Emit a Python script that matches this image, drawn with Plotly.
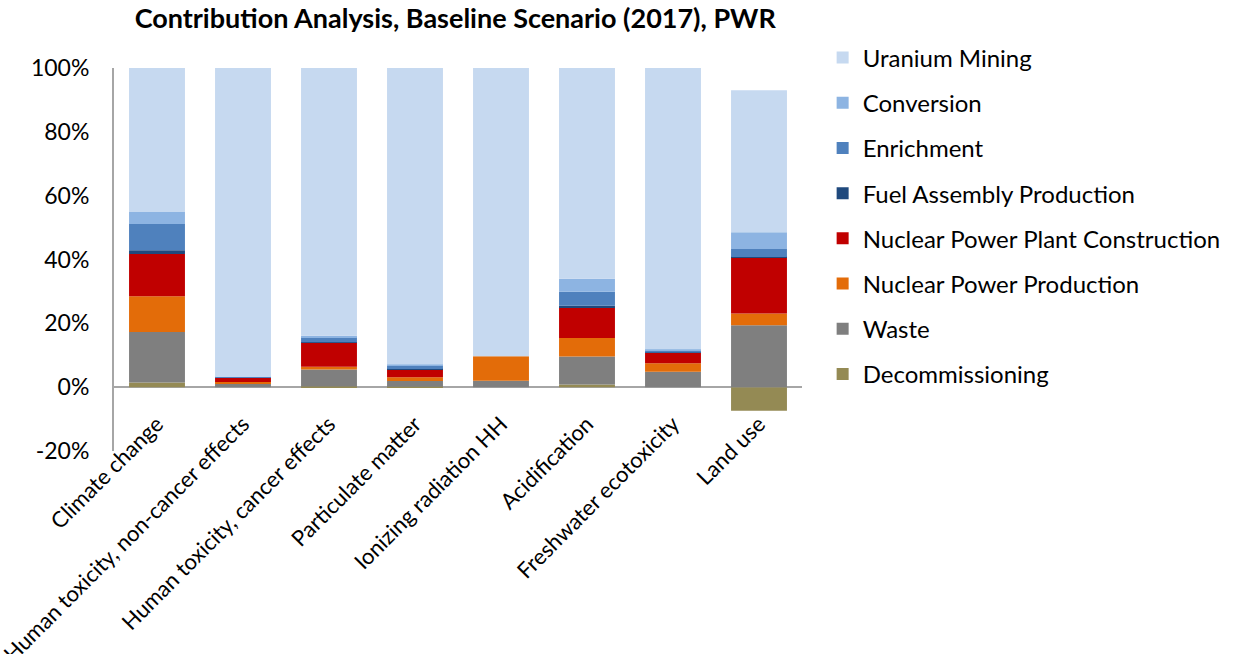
import plotly.graph_objects as go

categories = [
    "Climate change",
    "Human toxicity, non-cancer effects",
    "Human toxicity, cancer effects",
    "Particulate matter",
    "Ionizing radiation HH",
    "Acidification",
    "Freshwater ecotoxicity",
    "Land use",
]

# Contribution of each life-cycle stage (% of total impact)
decommissioning = [1.5, 0.0, 0.2, 0.1, 0.0, 0.8, 0.0, -7.4]
waste = [15.8, 1.0, 5.3, 1.8, 2.0, 8.8, 4.8, 19.4]
power_production = [11.2, 0.6, 0.9, 1.2, 7.7, 5.8, 2.7, 3.7]
plant_construction = [13.2, 1.3, 7.6, 2.5, 0.0, 9.6, 3.3, 17.6]
fuel_assembly = [1.2, 0.0, 0.1, 0.1, 0.0, 0.5, 0.1, 0.1]
enrichment = [8.2, 0.3, 1.6, 1.0, 0.0, 4.4, 0.7, 2.5]
conversion = [3.8, 0.0, 0.4, 0.4, 0.0, 4.1, 0.3, 5.2]
uranium_mining = [45.1, 96.8, 83.9, 92.9, 90.3, 66.0, 88.1, 44.5]

y_tick_values = [-20, 0, 20, 40, 60, 80, 100]
y_tick_labels = ["-20%", "0%", "20%", "40%", "60%", "80%", "100%"]

# Stacking order from the bottom of each bar upwards
series = [
    ("Decommissioning", decommissioning, "#948A54"),
    ("Waste", waste, "#7F7F7F"),
    ("Nuclear Power Production", power_production, "#E36C09"),
    ("Nuclear Power Plant Construction", plant_construction, "#C00000"),
    ("Fuel Assembly Production", fuel_assembly, "#1F497D"),
    ("Enrichment", enrichment, "#4F81BD"),
    ("Conversion", conversion, "#8DB4E2"),
    ("Uranium Mining", uranium_mining, "#C6D9F0"),
]

FONT = "Lato"

fig = go.Figure()
n = len(series)
for i, (name, values, color) in enumerate(series):
    fig.add_trace(go.Bar(
        name=name,
        x=categories,
        y=values,
        marker=dict(color=color, line=dict(width=0)),
        legendgroup=name,
        legendrank=n - i,  # top of the stack listed first
    ))

fig.update_layout(
    barmode="relative",
    bargap=0.35,
    width=1239,
    height=654,
    margin=dict(l=114, r=437, t=68, b=203),
    paper_bgcolor="white",
    plot_bgcolor="white",
    font=dict(family=FONT, size=21, color="black"),
    title=dict(
        text="<b>Contribution Analysis, Baseline Scenario (2017), PWR</b>",
        x=0.496, xref="paper", xanchor="center",
        y=0.972, yref="container", yanchor="middle",
        font=dict(family=FONT, size=27, color="black"),
    ),
    legend=dict(
        x=1.03, xanchor="left",
        y=1.085, yanchor="top",
        traceorder="grouped",
        tracegroupgap=11,
        maxheight=620,
        font=dict(family=FONT, size=24, color="black"),
        itemsizing="constant",
    ),
    xaxis=dict(
        tickangle=-45,
        showgrid=False,
        showline=False,
        ticks="",
        automargin=False,
        ticklabelstandoff=-45,
        tickfont=dict(family=FONT, size=22),
    ),
    yaxis=dict(
        range=[-20, 100],
        tickvals=y_tick_values,
        ticktext=y_tick_labels,
        showgrid=False,
        showline=True,
        linecolor="#A6A6A6",
        linewidth=2,
        zeroline=True,
        zerolinecolor="#A6A6A6",
        zerolinewidth=2,
        ticks="",
        ticklen=0,
        automargin=False,
        ticklabelstandoff=18,
        tickfont=dict(family=FONT, size=23),
    ),
)

fig.write_html("out.html")
